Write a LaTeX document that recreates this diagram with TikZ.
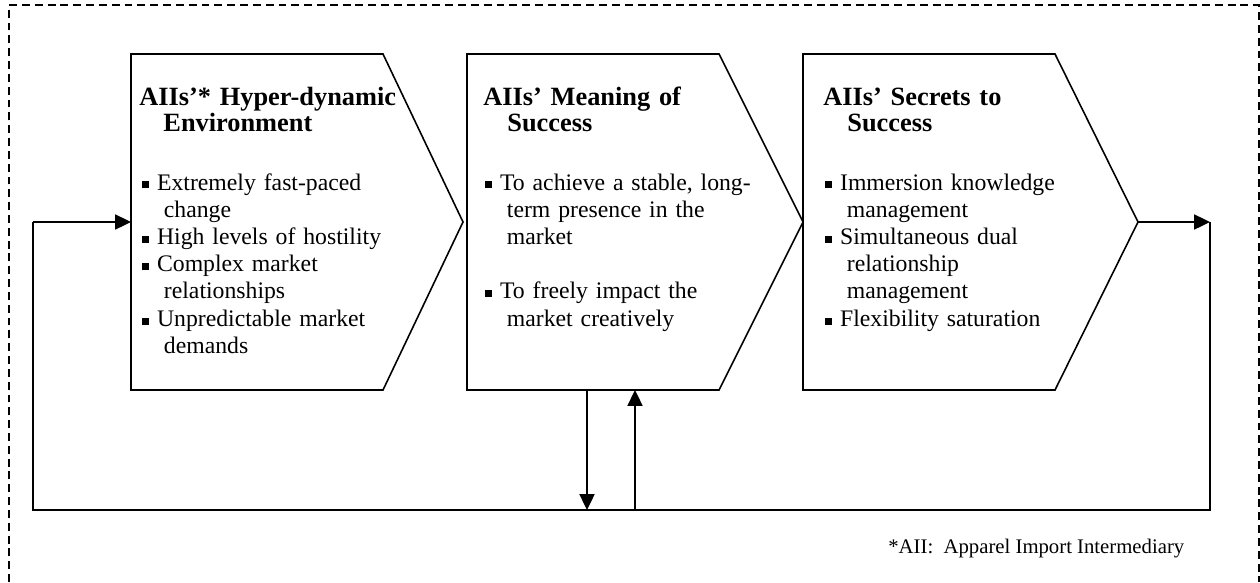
\documentclass[tikz,border=0pt]{standalone}
\usepackage{fontspec}
\setmainfont{Liberation Serif}
\usetikzlibrary{arrows.meta}

\newlength\bulgap \setlength\bulgap{8.4pt}
\newlength\bulhang \setlength\bulhang{12.3pt}
\newcommand\sqbul{\rule[0.9pt]{4pt}{4pt}}
\newcommand\bul[1]{\hangindent=\bulhang\hangafter=1\noindent\makebox[\bulgap][l]{\sqbul}#1\par}
\newcommand\headtxt[2]{\hangindent=13.7pt\hangafter=1\noindent #1\newline #2\par}

\begin{document}
\begin{tikzpicture}[
    x=0.02cm, y=-0.02cm,
    stage/.style={draw=black, line width=0.9pt, line join=miter},
    flow/.style={-{Triangle[length=9pt, width=8.5pt]}, line width=1.1pt},
    link/.style={line width=1.1pt},
    frame/.style={line width=0.7pt, dash pattern=on 4.5pt off 2.8pt},
    head/.style={anchor=base west, inner sep=0pt, text width=6cm, align=left,
        font=\fontsize{15}{15.2}\selectfont\bfseries},
    items/.style={anchor=base west, inner sep=0pt, text width=6cm, align=left,
        font=\fontsize{13.5}{15.5}\selectfont}
]
    \useasboundingbox (0,0) rectangle (1260,582);

    % Dashed frame
    \draw[frame] (9,582) -- (9,5) -- (1259,5) -- (1259,582);

    % Stages
    \draw[stage] (131,54) -- (383,54) -- (463,222) -- (383,390) -- (131,390) -- cycle;
    \draw[stage] (467,54) -- (719,54) -- (803,222) -- (719,390) -- (467,390) -- cycle;
    \draw[stage] (803,54) -- (1055,54) -- (1138,222) -- (1055,390) -- (803,390) -- cycle;

    % Headings
    \node[head] (envhead) at (139,105) {\headtxt{AIIs’* Hyper-dynamic}{Environment}};
    \node[head] (meanhead) at (483,105) {\headtxt{AIIs’ Meaning of}{Success}};
    \node[head] (secrhead) at (823,105) {\headtxt{AIIs’ Secrets to}{Success}};

    % Bullet lists
    \node[items] (envlist) at (142,190) {%
        \bul{Extremely fast-paced\newline change}
        \bul{High levels of hostility}
        \bul{Complex market\newline relationships}
        \bul{Unpredictable market\newline demands}};
    \node[items] (meanlist) at (485,190) {%
        \bul{To achieve a stable, long-\newline term presence in the\newline market}
        \vskip\baselineskip
        \bul{To freely impact the\newline market creatively}};
    \node[items] (secrlist) at (825,190) {%
        \bul{Immersion knowledge\newline management}
        \bul{Simultaneous dual\newline relationship\newline management}
        \bul{Flexibility saturation}};

    % Coordinates
    \coordinate (envW)   at (131,222);
    \coordinate (secrE)  at (1138,222);
    \coordinate (outR)   at (1210,222);
    \coordinate (loopBR) at (1210,510);
    \coordinate (loopBL) at (33,510);
    \coordinate (loopTL) at (33,222);
    \coordinate (downT)  at (587,390);
    \coordinate (downB)  at (587,510);
    \coordinate (upB)    at (635,510);
    \coordinate (upT)    at (635,390);

    % Feedback loop
    \draw[flow] (secrE) -- (outR);
    \draw[link] (outR) -- (loopBR) -- (loopBL) -- (loopTL);
    \draw[flow] (loopTL) -- (envW);
    \draw[flow] (downT) -- (downB);
    \draw[flow] (upB) -- (upT);

    % Footnote
    \node[anchor=base west, inner sep=0pt, font=\fontsize{11.8}{14}\selectfont] (note) at (888,553)
        {*AII:\ \ Apparel Import Intermediary};
\end{tikzpicture}
\end{document}
